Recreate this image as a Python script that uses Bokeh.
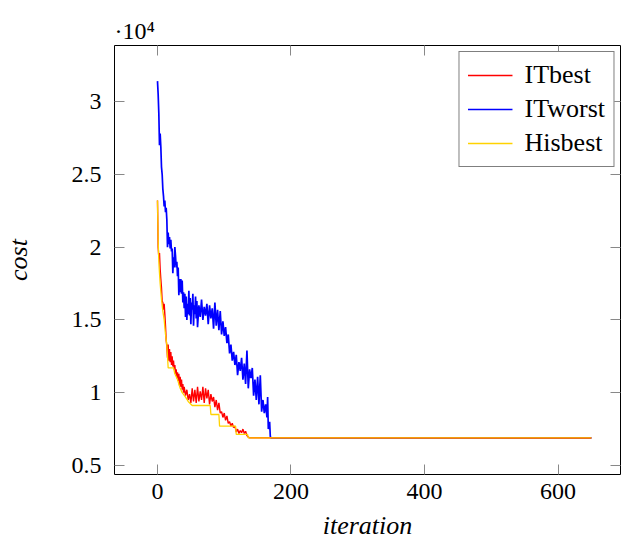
from bokeh.plotting import figure
from bokeh.models import Range1d, LinearAxis, FixedTicker, CustomJSTickFormatter, Legend, LegendItem
from bokeh.embed import file_html
from bokeh.resources import INLINE

# ---- data ----
best_iter = [0, 1, 2, 3, 4, 5, 6, 7, 8, 9, 10, 11, 12, 13, 14, 15, 16, 17, 18, 19, 20, 21, 22, 23, 24, 25,
             26, 27, 28, 29, 30, 31, 32, 33, 34, 35, 36, 37, 38, 39, 40, 42, 44, 46, 48, 50, 52, 54, 56, 58,
             60, 62, 64, 66, 68, 70, 72, 74, 76, 78, 80, 82, 84, 86, 88, 90, 92, 94, 96, 98, 100, 102, 104,
             106, 108, 110, 112, 114, 116, 118, 120, 122, 124, 126, 128, 130, 132, 134, 136, 138, 650]
best_cost = [23200, 20000, 19300, 19600, 18500, 17800, 17200, 16300, 16200, 15700, 16100, 15400, 14600,
             13600, 13200, 12400, 13300, 12200, 13000, 12100, 12800, 11900, 12500, 11800, 12200, 11600,
             11900, 11300, 11600, 11000, 11400, 10800, 11300, 10500, 11100, 10400, 10900, 10200, 10600,
             10000, 10400, 9800, 10200, 9500, 9900, 9300, 10300, 9400, 10200, 9300, 10400, 9400, 10100,
             9500, 10400, 9300, 10300, 9600, 10200, 9200, 9900, 9400, 9700, 9000, 9500, 8800, 9300, 8600,
             8700, 8300, 8600, 8100, 8400, 7900, 8000, 7700, 7900, 7600, 7700, 7300, 7500, 7200, 7400,
             7250, 7500, 7200, 7350, 7050, 6950, 6900, 6890]

worst_iter = [0, 1, 2, 3, 4, 5, 6, 7, 8, 9, 10, 11, 12, 13, 14, 15, 16, 17, 18, 19, 20, 21, 22, 23, 24,
              25, 26, 27, 28, 29, 30, 31, 32, 33, 34, 35, 36, 37, 38, 39, 40, 41, 42, 43, 44, 45, 46, 47,
              48, 49, 50, 51, 52, 53, 54, 55, 56, 57, 58, 59, 60, 62, 64, 66, 68, 70, 72, 74, 76, 78, 80,
              82, 84, 86, 88, 90, 92, 94, 96, 98, 100, 102, 104, 106, 108, 110, 112, 114, 116, 118, 120,
              122, 124, 126, 128, 130, 132, 134, 136, 138, 140, 142, 144, 146, 148, 150, 152, 154, 156,
              158, 160, 162, 164, 165, 166, 168, 169, 170, 175, 180, 650]
worst_cost = [31400, 30500, 29200, 27000, 27800, 26900, 25500, 25000, 24000, 23500, 22800, 23200, 22400,
              22700, 21900, 20000, 21000, 20200, 20700, 19900, 20500, 19700, 19900, 18200, 19300, 18600,
              20000, 19400, 18600, 19000, 18000, 18600, 16700, 17800, 16900, 17800, 16800, 17700, 16200,
              16900, 15800, 16800, 15200, 16600, 15000, 16100, 15400, 17000, 15300, 16500, 14700, 16200,
              15700, 16800, 14600, 16000, 15400, 16600, 15100, 16300, 14500, 16000, 15200, 16400, 15000,
              15900, 15300, 16100, 14700, 16000, 15100, 15800, 14400, 16200, 14600, 15700, 14300, 15600,
              14000, 14900, 13900, 14500, 13400, 14000, 12700, 13300, 12200, 12800, 11900, 12600, 11200,
              12100, 11500, 12400, 10900, 12000, 10600, 12900, 10300, 11600, 11000, 11700, 9800, 10900,
              9500, 11100, 9200, 11200, 8700, 9500, 8600, 9200, 8300, 9700, 7500, 8000, 7000, 6890, 6900,
              6890, 6890]

his_iter = [0, 1, 2, 3, 4, 6, 8, 10, 12, 14, 16, 24, 26, 30, 34, 37, 42, 46, 52, 79, 80, 92, 93, 117,
            118, 135, 136, 650]
his_cost = [23200, 20500, 19000, 18200, 17500, 16400, 15600, 15000, 14000, 13300, 11700, 11700, 11300,
            10900, 10300, 10000, 9700, 9400, 9120, 9120, 8500, 8500, 7700, 7700, 7130, 7130, 6890, 6890]

series_names = ["ITbest", "ITworst", "Hisbest"]
x_ticks = [0, 200, 400, 600]
y_ticks = [5000, 10000, 15000, 20000, 25000, 30000]
y_tick_labels = {5000: "0.5", 10000: "1", 15000: "1.5", 20000: "2", 25000: "2.5", 30000: "3"}
scale_note = "·10⁴"

FONT = "Liberation Serif"
X0, X1, Y0, Y1 = -64.4, 693.6, 4380, 33850

p = figure(width=622, height=544, output_backend="svg", toolbar_location=None,
           x_range=Range1d(X0, X1), y_range=Range1d(Y0, Y1),
           min_border_left=114, min_border_right=2, min_border_top=45, min_border_bottom=70)
p.xgrid.visible = False
p.ygrid.visible = False
p.outline_line_color = "black"
p.outline_line_width = 1
p.outline_line_alpha = 1
p.background_fill_color = "white"
p.border_fill_color = "white"

p.title.text = scale_note
p.title.text_font = FONT
p.title.text_font_size = "24px"
p.title.text_font_style = "normal"
p.title.text_color = "black"
p.title.align = "left"
p.title.standoff = 4

for ax in (p.xaxis[0], p.yaxis[0]):
    ax.axis_line_color = None
    ax.major_tick_in = 10
    ax.major_tick_out = 0
    ax.minor_tick_line_color = None
    ax.major_tick_line_color = "#888888"
    ax.major_label_text_font = FONT
    ax.major_label_text_font_size = "24px"
    ax.major_label_text_color = "black"
    ax.axis_label_text_font = FONT
    ax.axis_label_text_font_size = "26px"
    ax.axis_label_text_font_style = "italic"
    ax.axis_label_text_color = "black"

p.xaxis[0].ticker = FixedTicker(ticks=x_ticks)
p.yaxis[0].ticker = FixedTicker(ticks=y_ticks)
p.yaxis[0].major_label_overrides = {k: v for k, v in y_tick_labels.items()}
p.xaxis[0].axis_label = "iteration"
p.yaxis[0].axis_label = "cost"
p.xaxis[0].major_label_standoff = 9
p.xaxis[0].axis_label_standoff = 9
p.yaxis[0].major_label_standoff = 13
p.yaxis[0].axis_label_standoff = 36

blank = CustomJSTickFormatter(code="return ''")
top = LinearAxis(ticker=FixedTicker(ticks=x_ticks), formatter=blank)
right = LinearAxis(ticker=FixedTicker(ticks=y_ticks), formatter=blank)
for ax in (top, right):
    ax.axis_line_color = None
    ax.major_tick_in = 10
    ax.major_tick_out = 0
    ax.minor_tick_line_color = None
    ax.major_tick_line_color = "#888888"
    ax.major_label_standoff = 0
    ax.major_label_text_font_size = "1px"
p.add_layout(top, "above")
p.add_layout(right, "right")

r2 = p.line(worst_iter, worst_cost, line_color="#0000ff", line_width=1.7)
r1 = p.line(best_iter, best_cost, line_color="#ff0000", line_width=1.4)
r3 = p.line(his_iter, his_cost, line_color="#ffd200", line_width=1.3)

legend = Legend(items=[LegendItem(label=series_names[0], renderers=[r1]),
                       LegendItem(label=series_names[1], renderers=[r2]),
                       LegendItem(label=series_names[2], renderers=[r3])],
                location="top_right")
legend.label_text_font = FONT
legend.label_text_font_size = "26px"
legend.label_text_color = "black"
legend.glyph_width = 45
legend.glyph_height = 28
legend.label_height = 28
legend.spacing = 4
legend.padding = 8
legend.margin = 6
legend.label_standoff = 12
legend.border_line_color = "black"
legend.border_line_width = 1
legend.background_fill_alpha = 1
p.add_layout(legend)

open("out.html", "w").write(file_html(p, INLINE))
